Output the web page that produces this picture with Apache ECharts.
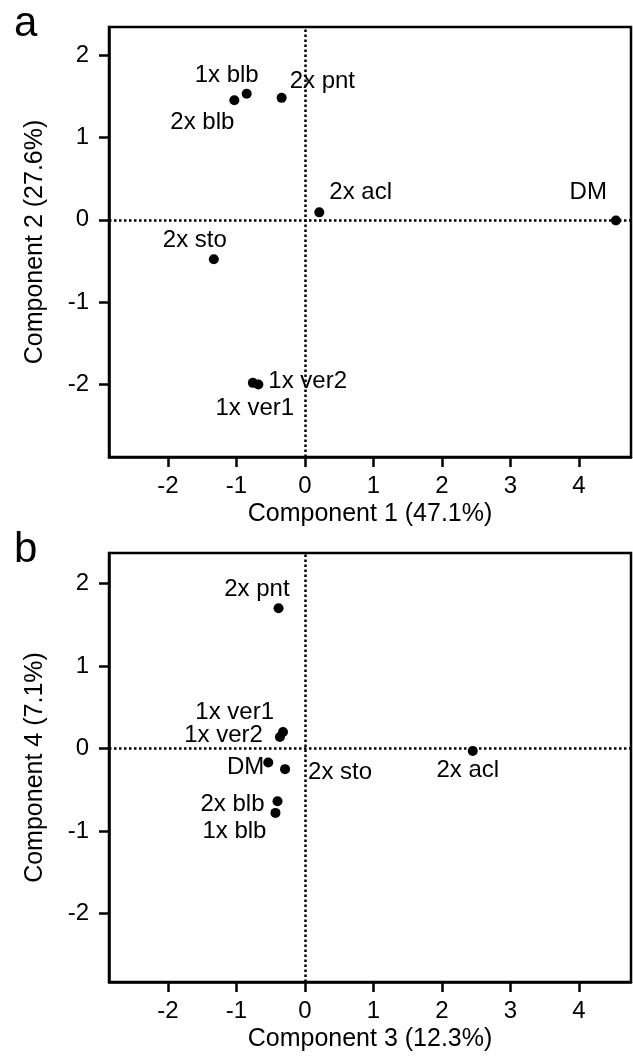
<!DOCTYPE html>
<html>
<head>
<meta charset="utf-8">
<script src="https://cdn.jsdelivr.net/npm/echarts@6/dist/echarts.min.js"></script>
<style>
  html, body { margin: 0; padding: 0; background: #fff; }
  #chart { width: 633px; height: 1058px; }
</style>
</head>
<body>
<div id="chart"></div>
<script>
  // panel a: component 1 vs component 2
  const namesA = ['1x blb', '2x blb', '2x pnt', '2x acl', 'DM', '2x sto', '1x ver1', '1x ver2']
  const comp1 = [-0.85, -1.03, -0.34, 0.21, 4.54, -1.33, -0.76, -0.68]
  const comp2 = [1.53, 1.45, 1.48, 0.09, -0.01, -0.48, -1.98, -2.00]

  // panel b: component 3 vs component 4
  const namesB = ['2x pnt', '1x ver1', '1x ver2', 'DM', '2x sto', '2x acl', '2x blb', '1x blb']
  const comp3 = [-0.385, -0.32, -0.365, -0.535, -0.29, 2.45, -0.40, -0.43]
  const comp4 = [1.70, 0.20, 0.14, -0.17, -0.25, -0.03, -0.64, -0.78]

  const xTicks = [-2, -1, 0, 1, 2, 3, 4]
  const yTicks = [-2, -1, 0, 1, 2]

  // label offsets from point centre (px), style only
  const offsA = {
    '1x blb': [-20, -18, 'center'],
    '2x blb': [0, 22, 'right'],
    '2x pnt': [8, -16, 'left'],
    '2x acl': [10, -20, 'left'],
    'DM': [-9, -28, 'right'],
    '2x sto': [-19, -19, 'center'],
    '1x ver1': [2, 26, 'center'],
    '1x ver2': [10, -3, 'left']
  }
  const offsB = {
    '2x pnt': [11, -19, 'right'],
    '1x ver1': [-9, -20, 'right'],
    '1x ver2': [-17, -2, 'right'],
    'DM': [-4, 5, 'right'],
    '2x sto': [23, 3, 'left'],
    '2x acl': [-5, 19, 'center'],
    '2x blb': [-13, 3, 'right'],
    '1x blb': [-9, 18, 'right']
  }

  const FONT = "'Liberation Sans', Arial, sans-serif"
  const SYM = 10

  function points (names, xs, ys, offs) {
    return names.map(function (n, i) {
      const o = offs[n]
      return {
        name: n,
        value: [xs[i], ys[i]],
        label: {
          position: [SYM / 2 + o[0], SYM / 2 + o[1]],
          align: o[2],
          verticalAlign: 'middle'
        }
      }
    })
  }

  function xAxis (idx, name, min, max) {
    return {
      type: 'value',
      gridIndex: idx,
      min: min,
      max: max,
      name: name,
      nameLocation: 'middle',
      nameGap: 45,
      nameTextStyle: { color: '#000', fontSize: 25, fontFamily: FONT },
      axisLine: { show: true, onZero: false, lineStyle: { color: '#000', width: 2.5 } },
      axisTick: { show: true, length: 10, customValues: xTicks, lineStyle: { color: '#000', width: 2.5 } },
      axisLabel: { customValues: xTicks, margin: 17, color: '#000', fontSize: 24, fontFamily: FONT },
      splitLine: { show: false }
    }
  }

  function yAxis (idx, name, min, max) {
    return {
      type: 'value',
      gridIndex: idx,
      min: min,
      max: max,
      name: name,
      nameLocation: 'middle',
      nameGap: 61,
      nameTextStyle: { color: '#000', fontSize: 25, fontFamily: FONT },
      axisLine: { show: true, onZero: false, lineStyle: { color: '#000', width: 2.5 } },
      axisTick: { show: true, length: 10, customValues: yTicks, lineStyle: { color: '#000', width: 2.5 } },
      axisLabel: { customValues: yTicks, margin: 20, color: '#000', fontSize: 24, fontFamily: FONT },
      splitLine: { show: false }
    }
  }

  function series (idx, data) {
    return {
      type: 'scatter',
      xAxisIndex: idx,
      yAxisIndex: idx,
      symbol: 'circle',
      symbolSize: SYM,
      itemStyle: { color: '#000', opacity: 1 },
      label: {
        show: true,
        formatter: '{b}',
        color: '#000',
        opacity: 1,
        fontSize: 24,
        fontFamily: FONT
      },
      data: data,
      markLine: {
        silent: true,
        symbol: 'none',
        label: { show: false },
        lineStyle: { color: '#000', width: 2.5, type: [2.5, 2.5], opacity: 1 },
        data: [{ xAxis: 0 }, { yAxis: 0 }]
      },
      z: 3
    }
  }

  const chart = echarts.init(document.getElementById('chart'))
  chart.setOption({
    backgroundColor: '#fff',
    animation: false,
    grid: [
      { left: 109, right: 2, top: 27, bottom: 601, show: true, borderColor: '#000', borderWidth: 2.5 },
      { left: 109, right: 2, top: 553, bottom: 76, show: true, borderColor: '#000', borderWidth: 2.5 }
    ],
    graphic: [
      { type: 'text', left: 14, top: 3, style: { text: 'a', font: '42px ' + FONT, fill: '#000' } },
      { type: 'text', left: 14, top: 529, style: { text: 'b', font: '42px ' + FONT, fill: '#000' } }
    ],
    xAxis: [
      xAxis(0, 'Component 1 (47.1%)', -2.86, 4.76),
      xAxis(1, 'Component 3 (12.3%)', -2.86, 4.76)
    ],
    yAxis: [
      yAxis(0, 'Component 2 (27.6%)', -2.88, 2.34),
      yAxis(1, 'Component 4 (7.1%)', -2.83, 2.37)
    ],
    series: [
      series(0, points(namesA, comp1, comp2, offsA)),
      series(1, points(namesB, comp3, comp4, offsB))
    ]
  })
</script>
</body>
</html>
